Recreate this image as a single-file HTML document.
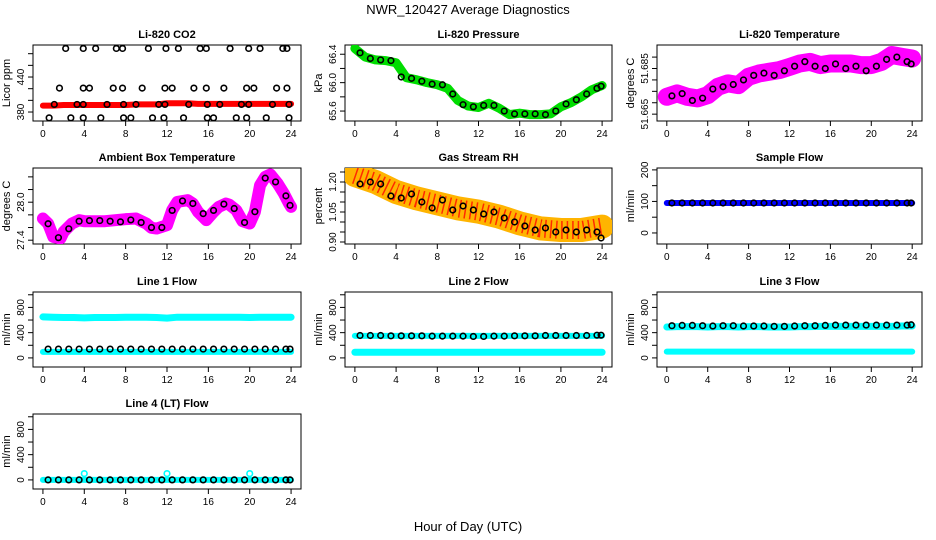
<!DOCTYPE html>
<html><head><meta charset="utf-8">
<style>
body{margin:0;background:#fff;}
svg{display:block;font-family:"Liberation Sans",Arial,sans-serif;}
</style></head>
<body>
<svg id="chart" width="936" height="540" viewBox="0 0 936 540">
<text x="468" y="14" text-anchor="middle" font-size="13">NWR_120427  Average Diagnostics</text>
<text x="468" y="531" text-anchor="middle" font-size="13">Hour of Day (UTC)</text>
</svg>
<script>
// ---- data ----
const xTicks = [0,4,8,12,16,20,24];
const hours = [0,1,2,3,4,5,6,7,8,9,10,11,12,13,14,15,16,17,18,19,20,21,22,23,24];
const blackHours = [0.5,1.5,2.5,3.5,4.5,5.5,6.5,7.5,8.5,9.5,10.5,11.5,12.5,13.5,14.5,15.5,16.5,17.5,18.5,19.5,20.5,21.5,22.5,23.5,23.9];

const co2Band = [391,391,392,392,392,392,392,392,392,393,393,393,395,395,395,394,394,394,394,394,394,394,394,394,394];
const co2TopX = [2.2,3.9,5.1,7.1,7.7,10.2,11.9,13.1,15.2,15.8,18.1,19.9,21.0,23.2,23.6];
const co2MidX = [1.6,3.9,4.5,6.8,7.7,9.6,11.8,12.5,14.6,15.8,17.5,19.7,20.4,22.6,23.6];
const co2LowX = [0.6,2.7,3.9,5.6,7.8,8.5,10.6,11.7,13.6,15.9,16.5,18.7,19.7,21.6,23.8];
const co2LineX = [1.1,3.3,3.9,6.2,7.8,9.0,11.2,11.8,14.1,15.9,17.1,19.2,19.9,22.2,23.8];
const co2Levels = [489,421,370,393];

const presBand = [66.48,66.36,66.32,66.31,66.28,66.07,66.04,66.0,65.97,65.92,65.75,65.67,65.65,65.71,65.64,65.55,65.57,65.55,65.55,65.56,65.66,65.72,65.8,65.9,65.96];
const presBlack = [66.42,66.34,66.32,66.31,66.08,66.06,66.02,65.98,65.97,65.84,65.69,65.66,65.68,65.68,65.6,65.56,65.56,65.56,65.55,65.6,65.7,65.76,65.84,65.92,65.95];

const tempBand = [51.6726,51.6741,51.6726,51.6719,51.6733,51.677,51.6785,51.6777,51.6814,51.6828,51.6836,51.6843,51.6857,51.6872,51.6879,51.6865,51.6872,51.6872,51.6872,51.6865,51.6865,51.6879,51.6909,51.6901,51.6894];
const tempBlack = [51.673,51.674,51.671,51.672,51.676,51.677,51.678,51.680,51.682,51.683,51.682,51.684,51.686,51.688,51.686,51.685,51.687,51.685,51.686,51.684,51.686,51.689,51.690,51.688,51.687];

const ambX = [0,0.5,1,1.7,2,2.8,3.5,4,6,8,9,10,10.5,11,12,12.5,13,14,14.5,15,15.8,16.5,17,17.7,18,18.7,19.3,20,20.5,21,21.5,22,22.7,23.3,23.8,24];
const ambBand = [27.742,27.663,27.453,27.427,27.531,27.663,27.716,27.700,27.700,27.732,27.742,27.663,27.595,27.584,27.637,27.874,28.005,28.032,27.979,27.847,27.716,27.847,27.926,27.979,27.963,27.874,27.700,27.663,27.847,28.268,28.4,28.437,28.295,28.137,27.979,27.926];
const ambBlack = [27.66,27.44,27.58,27.7,27.71,27.71,27.7,27.69,27.72,27.68,27.6,27.6,27.87,28.02,27.98,27.82,27.87,27.97,27.9,27.68,27.85,28.38,28.32,28.1,27.95];

const rhX = [0,2,4,6,8,10,12,14,16,18,20,22,24];
const rhBand = [1.235,1.2,1.15,1.118,1.093,1.068,1.052,1.027,0.993,0.968,0.96,0.96,0.977];
const rhBlack = [1.19,1.2,1.19,1.13,1.12,1.14,1.1,1.07,1.11,1.06,1.08,1.06,1.04,1.05,1.02,1.0,0.98,0.96,0.97,0.95,0.96,0.95,0.96,0.95,0.92];

const sampleBand = [95,95,95,95,95,95,95,95,95,95,95,95,95,95,95,95,95,95,95,95,95,95,95,95,95];
const sampleBlack = [95,95,95,95,95,95,95,95,95,95,95,95,95,95,95,95,95,95,95,95,95,95,95,95,95];

const l1CyanHi = [650,645,640,640,635,640,640,640,645,645,645,640,630,645,645,645,645,645,645,645,640,645,645,645,645];
const l1CyanLo = [95,95,95,95,95,95,95,95,95,95,95,95,95,95,95,95,95,95,95,95,95,95,95,95,95];
const l1Black = [140,140,140,140,140,140,140,140,140,140,140,140,140,140,140,140,140,140,140,140,140,140,140,140,140];

const l2CyanHi = [350,350,350,350,350,350,350,350,350,350,350,350,350,350,350,350,350,350,350,350,350,350,350,350,350];
const l2CyanLo = [90,90,90,90,90,90,90,90,90,90,90,90,90,90,90,90,90,90,90,90,90,90,90,90,90];
const l2Black = [355,355,355,350,350,350,350,345,345,345,345,340,340,345,345,350,350,350,355,355,355,355,355,360,360];

const l3CyanHi = [490,495,495,495,490,495,495,490,495,495,490,490,490,495,495,500,500,500,500,500,500,500,500,505,505];
const l3CyanLo = [100,100,100,100,100,100,100,100,100,100,100,100,100,100,100,100,100,100,100,100,100,100,100,100,100];
const l3Black = [510,515,515,510,505,510,510,505,505,505,500,500,505,510,510,515,520,520,520,520,520,520,520,520,525];

const l4Cyan = [0,0,0,0,0,0,0,0,0,0,0,0,0,0,0,0,0,0,0,0,0,0,0,0,0];
const l4Black = [0,0,0,0,0,0,0,0,0,0,0,0,0,0,0,0,0,0,0,0,0,0,0,0,0];
const l4SpikeX = [4,12,20];
const l4SpikeY = [100,100,100];

// ---- rendering ----
const NS = "http://www.w3.org/2000/svg";
const svg = document.getElementById("chart");
const colL = [33,345,657], colR = [301,612,922];
const rowT = [45,168,292,414], rowB = [121,244,367,489];
const XMIN = -0.96, XMAX = 24.96;

function mk(tag, attrs, parent){
  const e = document.createElementNS(NS, tag);
  for (const k in attrs) e.setAttribute(k, attrs[k]);
  (parent||svg).appendChild(e);
  return e;
}

function panel(name, title, ylab, col, row, ymin, ymax, yTicks, yLabels){
  const g = mk("g", {});
  
  
  const L = colL[col], R = colR[col], T = rowT[row], B = rowB[row];
  const sx = v => L + (v - XMIN) / (XMAX - XMIN) * (R - L);
  const sy = v => B - (v - ymin) / (ymax - ymin) * (B - T);
  const t = mk("text", {x:(L+R)/2, y:T-7, "text-anchor":"middle", "font-size":"11", "font-weight":"bold"}, g);
  t.textContent = title;
  
  
  const yl = mk("text", {x:0, y:0, "text-anchor":"middle", "font-size":"11", transform:`translate(${L-23},${(T+B)/2}) rotate(-90)`}, g);
  yl.textContent = ylab;
  
  
  const box = mk("rect", {x:L, y:T, width:R-L, height:B-T, fill:"none", stroke:"#000", "stroke-width":"1"}, g);
  
  
  const xa = mk("g", {}, g);
  
  
  xTicks.forEach(v => {
    mk("line", {x1:sx(v), x2:sx(v), y1:B, y2:B+5, stroke:"#000"}, xa);
    const tl = mk("text", {x:sx(v), y:B+16, "text-anchor":"middle", "font-size":"10"}, xa);
    tl.textContent = v;
  });
  const ya = mk("g", {}, g);
  
  
  yTicks.forEach(v => mk("line", {x1:L-5, x2:L, y1:sy(v), y2:sy(v), stroke:"#000"}, ya));
  yLabels.forEach(s => {
    const tl = mk("text", {x:0, y:0, "text-anchor":"middle", "font-size":"10", transform:`translate(${L-9},${sy(parseFloat(s))}) rotate(-90)`}, ya);
    tl.textContent = s;
  });
  const clip = "clip-" + name;
  const cp = mk("clipPath", {id:clip}, g);
  mk("rect", {x:L, y:T, width:R-L, height:B-T}, cp);
  const d = mk("g", {"clip-path":`url(#${clip})`}, g);
  return {sx, sy, d};
}

function band(p, xs, ys, color, w, name){
  const pts = xs.map((x,i) => p.sx(x) + "," + p.sy(ys[i])).join(" ");
  const e = mk("polyline", {points:pts, fill:"none", stroke:color, "stroke-width":w, "stroke-linejoin":"round", "stroke-linecap":"round"}, p.d);
  
  
  return e;
}
function circles(p, xs, ys, color, name){
  const g = mk("g", {}, p.d);
  
  
  xs.forEach((x,i) => mk("circle", {cx:p.sx(x), cy:p.sy(ys[i]), r:2.8, fill:"none", stroke:color, "stroke-width":"1.6"}, g));
}

// CO2
let p = panel("co2", "Li-820 CO2", "Licor ppm", 0, 0, 364.6, 494.9, [380,400,420,440,460,480], ["380","440"]);
band(p, hours, co2Band, "#ff0000", 6, "co2-band");
circles(p, co2TopX, co2TopX.map(() => co2Levels[0]), "#000", "co2-points-high");
circles(p, co2MidX, co2MidX.map(() => co2Levels[1]), "#000", "co2-points-mid");
circles(p, co2LowX, co2LowX.map(() => co2Levels[2]), "#000", "co2-points-low");
circles(p, co2LineX, co2LineX.map(() => co2Levels[3]), "#000", "co2-points-line");

// Pressure
p = panel("pressure", "Li-820 Pressure", "kPa", 1, 0, 65.46, 66.53, [65.6,65.8,66.0,66.2,66.4], ["65.6","66.0","66.4"]);
band(p, hours, presBand, "#00dd00", 9, "pressure-band");
circles(p, blackHours, presBlack, "#000", "pressure-points");

// Temperature
p = panel("temperature", "Li-820 Temperature", "degrees C", 2, 0, 51.662, 51.6953, [51.665,51.67,51.675,51.68,51.685,51.69], ["51.665","51.685"]);
band(p, hours, tempBand, "#ff00ff", 18, "temperature-band");
circles(p, blackHours, tempBlack, "#000", "temperature-points");

// Ambient
p = panel("ambient", "Ambient Box Temperature", "degrees C", 0, 1, 27.34, 28.54, [27.4,27.6,27.8,28.0,28.2,28.4], ["27.4","28.0"]);
band(p, ambX, ambBand, "#ff00ff", 12, "ambient-band");
circles(p, blackHours, ambBlack, "#000", "ambient-points");

// RH
p = panel("rh", "Gas Stream RH", "percent", 1, 1, 0.89, 1.27, [0.9,0.95,1.0,1.05,1.1,1.15,1.2,1.25], ["0.90","1.05","1.20"]);
band(p, rhX, rhBand, "#ffb400", 24, "rh-band");
const speck = band(p, rhX, rhBand, "#ff2a00", 18, "rh-band-speckle");
speck.setAttribute("stroke-linecap", "butt");
speck.setAttribute("stroke-dasharray", "1.5 4");
circles(p, blackHours, rhBlack, "#000", "rh-points");

// Sample flow
p = panel("sample-flow", "Sample Flow", "ml/min", 2, 1, -35, 206, [0,50,100,150,200], ["0","100","200"]);
band(p, hours, sampleBand, "#0000ff", 6, "sample-flow-band");
circles(p, blackHours, sampleBlack, "#000", "sample-flow-points");

const fT = [0,200,400,600,800,1000], fL = ["0","400","800"];
// Line 1
p = panel("line1", "Line 1 Flow", "ml/min", 0, 2, -144, 1044, fT, fL);
band(p, hours, l1CyanHi, "#00ffff", 7, "line1-cyan-high");
band(p, hours, l1CyanLo, "#00ffff", 6, "line1-cyan-low");
circles(p, blackHours, l1Black, "#000", "line1-points");
// Line 2
p = panel("line2", "Line 2 Flow", "ml/min", 1, 2, -144, 1044, fT, fL);
band(p, hours, l2CyanHi, "#00ffff", 6, "line2-cyan-high");
band(p, hours, l2CyanLo, "#00ffff", 7, "line2-cyan-low");
circles(p, blackHours, l2Black, "#000", "line2-points");
// Line 3
p = panel("line3", "Line 3 Flow", "ml/min", 2, 2, -144, 1044, fT, fL);
band(p, hours, l3CyanHi, "#00ffff", 7, "line3-cyan-high");
band(p, hours, l3CyanLo, "#00ffff", 6, "line3-cyan-low");
circles(p, blackHours, l3Black, "#000", "line3-points");
// Line 4
p = panel("line4", "Line 4 (LT) Flow", "ml/min", 0, 3, -144, 1044, fT, fL);
band(p, hours, l4Cyan, "#00ffff", 6, "line4-cyan");
circles(p, blackHours, l4Black, "#000", "line4-points");
circles(p, l4SpikeX, l4SpikeY, "#00ffff", "line4-spikes");
</script>
</body></html>
